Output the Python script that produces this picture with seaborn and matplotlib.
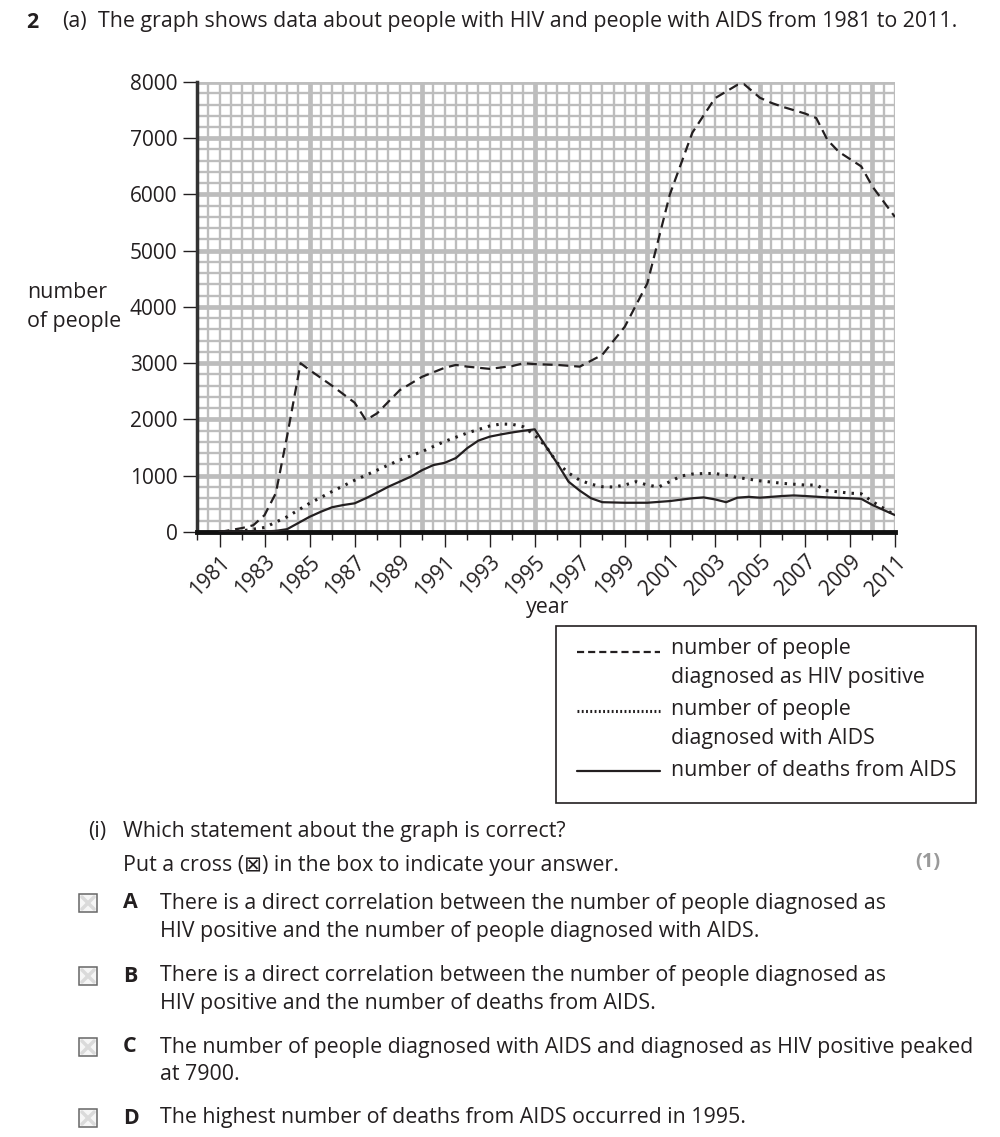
import numpy as np
import matplotlib
matplotlib.use("Agg")
import matplotlib.pyplot as plt
import seaborn as sns
from matplotlib.lines import Line2D
from matplotlib.patches import Rectangle

sns.set_theme(style="white")
plt.rcParams['font.family'] = ['Open Sans', 'DejaVu Sans']

INK = '#231f20'
FS = 15.4

# ---------------------------
# data
# ---------------------------
hiv_years = [1981, 1982, 1982.5, 1983, 1983.5, 1984, 1984.6, 1985, 1986, 1987, 1987.5,
             1988, 1989, 1990, 1991, 1991.5, 1992, 1993, 1994, 1994.5, 1995, 1996,
             1997, 1998, 1999, 2000, 2001, 2002, 2003, 2004, 2004.3, 2005, 2005.5,
             2006, 2007, 2007.5, 2008, 2008.5, 2009, 2009.5, 2010, 2011]
hiv_values = [0, 70, 120, 300, 690, 1700, 3000, 2880, 2600, 2300, 1990,
              2110, 2520, 2760, 2920, 2970, 2940, 2900, 2950, 3000, 2985, 2970,
              2940, 3150, 3650, 4420, 6000, 7100, 7710, 7950, 7960, 7720, 7630,
              7560, 7440, 7360, 6970, 6760, 6630, 6500, 6140, 5600]

aids_years = [1981, 1982, 1983, 1984, 1985, 1986, 1987, 1988, 1989, 1990, 1991, 1992,
              1993, 1993.5, 1994, 1994.5, 1995, 1995.5, 1996, 1996.5, 1997, 1997.5,
              1998, 1998.5, 1999, 1999.5, 2000, 2000.5, 2001, 2001.5, 2002, 2002.5,
              2003, 2003.5, 2004, 2005, 2006, 2007, 2007.5, 2008, 2009, 2009.5,
              2010, 2011]
aids_values = [0, 20, 80, 270, 510, 720, 920, 1100, 1280, 1430, 1610, 1760,
               1885, 1920, 1915, 1870, 1720, 1520, 1230, 1050, 920, 850,
               805, 800, 835, 895, 835, 800, 895, 995, 1030, 1040,
               1040, 1010, 970, 910, 865, 835, 835, 735, 690, 680,
               540, 300]

death_years = [1981, 1982, 1983, 1983.5, 1984, 1984.5, 1985, 1985.5, 1986, 1986.5, 1987,
               1987.5, 1988, 1988.5, 1989, 1989.5, 1990, 1990.5, 1991, 1991.5, 1992,
               1992.5, 1993, 1993.5, 1994, 1994.5, 1995, 1995.5, 1996, 1996.5, 1997,
               1997.5, 1998, 1999, 2000, 2001, 2002, 2002.5, 2003, 2003.5, 2004,
               2004.5, 2005, 2006, 2006.5, 2007, 2008, 2009, 2009.5, 2010, 2011]
death_values = [0, 0, 10, 20, 50, 160, 270, 360, 440, 480, 510,
                600, 700, 805, 895, 985, 1100, 1190, 1230, 1315, 1490,
                1625, 1695, 1735, 1770, 1800, 1825, 1520, 1220, 895, 735,
                600, 530, 520, 520, 550, 600, 615, 580, 530, 610,
                625, 610, 640, 650, 640, 615, 600, 590, 480, 300]

year_ticks = list(range(1981, 2012, 2))
people_ticks = list(range(0, 8001, 1000))

legend_labels = ["number of people\ndiagnosed as HIV positive",
                 "number of people\ndiagnosed with AIDS",
                 "number of deaths from AIDS"]

# ---------------------------
# figure / axes
# ---------------------------
W, H = 1000, 1137
fig = plt.figure(figsize=(W / 100, H / 100), dpi=100)
ax = fig.add_axes([197 / W, 1 - 532 / H, 698 / W, 450 / H])


def px(x, y):
    return x / W, 1 - y / H


# graph paper grid
grid_c = '#bdbdbd'
for v in np.arange(1980.5, 2011.01, 0.5):
    ax.axvline(v, color=grid_c, lw=3.4 if v % 5 == 0 else 1.7, zorder=0)
for v in np.arange(200, 8001, 200):
    ax.axhline(v, color=grid_c, lw=3.4 if v % 1000 == 0 else 1.7, zorder=0)

sns.lineplot(x=hiv_years, y=hiv_values, ax=ax, color=INK, lw=1.6, zorder=3)
ax.lines[-1].set_dashes([4.5, 2.6])
sns.lineplot(x=aids_years, y=aids_values, ax=ax, color=INK, lw=2.2, zorder=3)
ax.lines[-1].set_dashes([0.8, 2.0])
sns.lineplot(x=death_years, y=death_values, ax=ax, color=INK, lw=1.6, zorder=3)

ax.set_xlim(1980, 2011)
ax.set_ylim(0, 8000)
ax.set_xticks(year_ticks)
ax.set_xticks(range(1980, 2012, 2), minor=True)
ax.set_xticklabels([str(y) for y in year_ticks], rotation=45, ha='right',
                   rotation_mode='anchor', fontsize=15, color=INK)
ax.set_yticks(people_ticks)
ax.set_yticklabels([str(v) for v in people_ticks], fontsize=15, color=INK)
ax.tick_params(axis='x', which='major', direction='out', length=11, width=1,
               color=INK, pad=3, bottom=True)
ax.tick_params(axis='x', which='minor', direction='out', length=6, width=1,
               color=INK, bottom=True)
ax.tick_params(axis='y', direction='out', length=10, width=1, color=INK,
               pad=4, left=True)
ax.set_xlabel("")
ax.set_ylabel("")
for s in ['top', 'right']:
    ax.spines[s].set_visible(False)
ax.spines['left'].set_linewidth(2.5)
ax.spines['left'].set_color('#333333')
ax.spines['bottom'].set_linewidth(3.5)
ax.spines['bottom'].set_color('#111111')
ax.set_facecolor('white')

# axis titles
fig.text(*px(27, 293), "number", fontsize=FS, color=INK, va='center', ha='left')
fig.text(*px(27, 321), "of people", fontsize=FS, color=INK, va='center', ha='left')
fig.text(*px(548, 607), "year", fontsize=FS, color=INK, va='center', ha='center')

# heading
fig.text(*px(26, 22), "2", fontsize=FS, color=INK, va='center', ha='left', fontweight='bold')
fig.text(*px(62, 22), "(a)", fontsize=FS, color=INK, va='center', ha='left')
fig.text(*px(98, 22), "The graph shows data about people with HIV and people with AIDS from 1981 to 2011.",
         fontsize=FS, color=INK, va='center', ha='left')

# legend box
fig.add_artist(Rectangle(px(556, 803), 420 / W, 177 / H, transform=fig.transFigure,
                         fill=False, edgecolor=INK, lw=1.2))
leg_rows = [(652, 663), (711, 724), (771, 770)]
for i, (ly, ty) in enumerate(leg_rows):
    src = ax.lines[-3 + i]
    x0, y0 = px(577, ly)
    x1, _ = px(660, ly)
    ln = Line2D([x0, x1], [y0, y0], transform=fig.transFigure, color=INK,
                lw=src.get_linewidth())
    if i == 0:
        ln.set_dashes([3.2, 1.8])
    elif i == 1:
        ln.set_dashes([0.6, 0.8])
    fig.add_artist(ln)
    fig.text(*px(671, ty), legend_labels[i], fontsize=FS, color=INK, va='center',
             ha='left', linespacing=1.45)

# question part (i)
fig.text(*px(88, 831), "(i)", fontsize=FS, color=INK, va='center', ha='left')
fig.text(*px(123, 831), "Which statement about the graph is correct?", fontsize=FS,
         color=INK, va='center', ha='left')
fig.text(*px(123, 865), "Put a cross (\u22a0) in the box to indicate your answer.",
         fontsize=FS, color=INK, va='center', ha='left')
fig.text(*px(928, 862), "(1)", fontsize=14.5, color='#9a9a9a', va='center', ha='center',
         fontweight='bold')

options = [
    ("A", ["There is a direct correlation between the number of people diagnosed as",
           "HIV positive and the number of people diagnosed with AIDS."], 903),
    ("B", ["There is a direct correlation between the number of people diagnosed as",
           "HIV positive and the number of deaths from AIDS."], 976),
    ("C", ["The number of people diagnosed with AIDS and diagnosed as HIV positive peaked",
           "at 7900."], 1047),
    ("D", ["The highest number of deaths from AIDS occurred in 1995."], 1118),
]
for letter, lines, y in options:
    bx, by = px(79, y + 9)
    fig.add_artist(Rectangle((bx, by), 18 / W, 18 / H, transform=fig.transFigure,
                             facecolor='#f6f6f6', edgecolor='#666666', lw=1.1))
    for (a, b), (c, d) in [((82, y - 6), (94, y + 6)), ((82, y + 6), (94, y - 6))]:
        p0, p1 = px(a, b), px(c, d)
        fig.add_artist(Line2D([p0[0], p1[0]], [p0[1], p1[1]], transform=fig.transFigure,
                              color='#dadada', lw=2.5))
    fig.text(*px(123, y), letter, fontsize=FS, color=INK, va='center', ha='left',
             fontweight='bold')
    for k, t in enumerate(lines):
        fig.text(*px(160, y + k * 28), t, fontsize=FS, color=INK, va='center', ha='left')

fig.savefig("out.png", dpi=100, facecolor='white')
